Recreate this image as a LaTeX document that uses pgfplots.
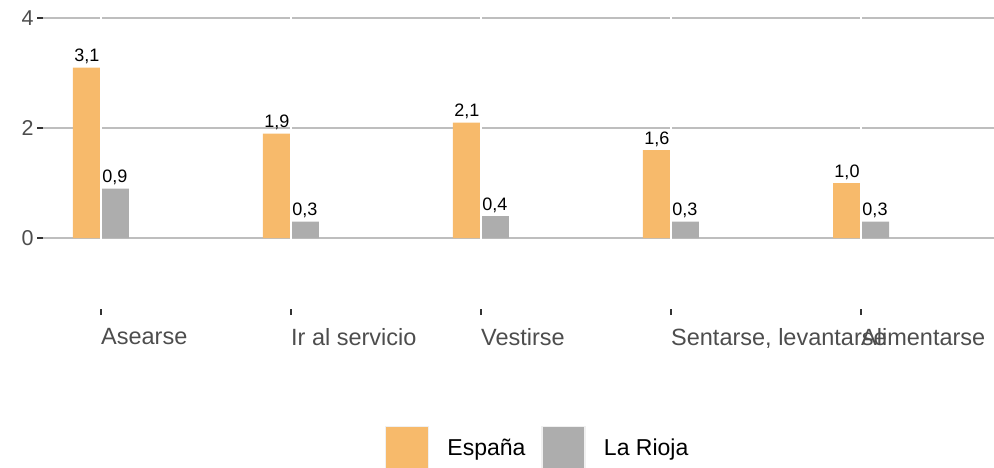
\documentclass[border=0pt]{standalone}
\usepackage{pgfplots}
\pgfplotsset{compat=1.18}
\usepackage{fontspec}
\setmainfont{Liberation Sans}
\definecolor{esp}{RGB}{247,186,107}
\definecolor{rio}{RGB}{173,173,173}
\definecolor{gridc}{RGB}{190,190,190}
\definecolor{tickc}{RGB}{51,51,51}
\definecolor{labc}{RGB}{77,77,77}
\pgfplotsset{sqlegend/.style={legend image code/.code={\draw[##1, draw=black!6, line width=1.5pt] (0pt,-21pt) rectangle (43pt,21pt);}}}
\begin{document}
\begin{tikzpicture}
\begin{axis}[
  at={(43pt,-309pt)}, anchor=south west,
  scale only axis, width=951pt, height=302pt,
  xmin=-0.305, xmax=4.7, ymin=-1.29, ymax=4.2,
  axis line style={draw=none},
  ybar=0pt, bar width=28pt,
  xtick={0,1,2,3,4},
  xticklabels={Asearse, Ir al servicio, Vestirse, {Sentarse, levantarse}, Alimentarse},
  ytick={0,2,4},
  xtick pos=bottom, ytick pos=left,
  tick align=outside, major tick length=6pt,
  tick style={tickc, line width=2.2pt},
  ymajorgrids, grid style={gridc, line width=2.8pt},
  /pgf/number format/assume math mode=true,
  yticklabel style={font=\fontsize{21.5}{24}\selectfont, text=labc},
  xticklabel style={font=\fontsize{23.5}{26}\selectfont, text=labc, anchor=north west, inner sep=0pt, yshift=-13pt},
  nodes near coords,
  nodes near coords style={font=\fontsize{18}{20}\selectfont, text=black,
    /pgf/number format/use comma, /pgf/number format/fixed,
    /pgf/number format/fixed zerofill, /pgf/number format/precision=1},
  legend columns=2,
  legend style={draw=none, fill=none, at={(axis description cs:0.3596,-0.387)}, anchor=north west,
    inner sep=0pt, outer sep=0pt, font=\fontsize{23}{26}\selectfont,
    nodes={inner sep=0pt},
    /tikz/every odd column/.append style={column sep=18pt},
    /tikz/every even column/.append style={column sep=16pt}},
]
\addplot[fill=esp, draw=none, sqlegend]
  coordinates {(0,3.1) (1,1.9) (2,2.1) (3,1.6) (4,1.0)};
\addplot[fill=rio, draw=none, sqlegend]
  coordinates {(0,0.9) (1,0.3) (2,0.4) (3,0.3) (4,0.3)};
\legend{España, La Rioja}
\pgfplotsinvokeforeach{0,1,2,3,4}{
  \draw[white, line width=2.5pt] (axis cs:#1,-1.29) -- (axis cs:#1,4.2);
}
\end{axis}
\pgfresetboundingbox
\useasboundingbox (0,0) rectangle (994pt,-467pt);
\end{tikzpicture}
\end{document}
